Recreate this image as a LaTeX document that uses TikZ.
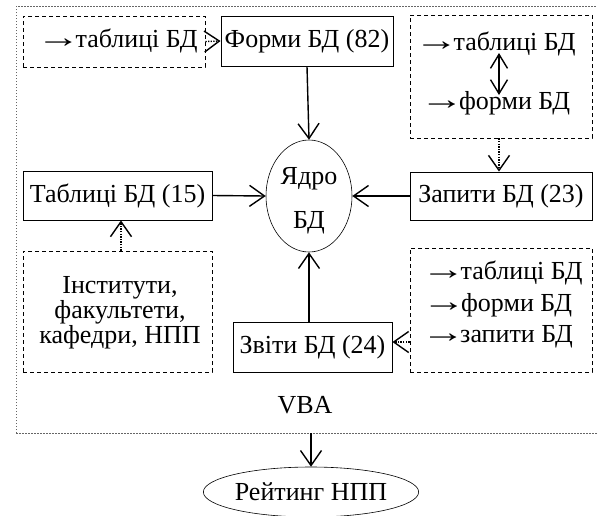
\documentclass[tikz,border=0pt]{standalone}
\usepackage{fontspec}
\usepackage{graphicx}
\setmainfont{Liberation Serif}
\newcommand\myarr{\kern-2pt\scalebox{1.7}[1.15]{→}\kern-5pt}
\usetikzlibrary{arrows.meta,shapes.geometric,calc}
\begin{document}
\begin{tikzpicture}[x=1pt,y=-1pt,
  every node/.style={font=\fontsize{26}{32}\selectfont, inner sep=0pt},
  dbox/.style={draw, line width=0.9pt, dash pattern=on 4pt off 3pt},
  arr/.style={-{Straight Barb[length=15pt,width=21pt,line width=1.4pt]}, line width=1.4pt},
  darr/.style={-{Straight Barb[length=15pt,width=21pt,line width=1.4pt]}, line width=1.4pt, dash pattern=on 1.3pt off 1.3pt},
  dbl/.style={{Straight Barb[length=14pt,width=17pt,line width=1.4pt]}-{Straight Barb[length=14pt,width=17pt,line width=1.4pt]}, line width=1.4pt}]
\useasboundingbox (0,0) rectangle (597,515);
% outer dotted frame
\draw[gray!80!black, line width=0.8pt, dash pattern=on 1.5pt off 1.5pt] (16,433) -- (16,6) -- (610,6);
\draw[gray!80!black, line width=0.8pt, dash pattern=on 1.5pt off 1.5pt] (16,433) -- (610,433);
% nodes
\node[dbox, minimum width=182pt, minimum height=51pt] (tabl1) at (114,41.5) {};
\node at (118,41) {\myarr таблиці БД};
\node[draw, line width=0.9pt, minimum width=172pt, minimum height=50pt] (forms) at (307,41) {Форми БД (82)};
\node[dbox, minimum width=182pt, minimum height=123pt] (rtop) at (501,76.5) {};
\node (rt1) at (496,44) {\myarr таблиці БД};
\node (rt2) at (496,103) {\myarr форми БД};
\coordinate (d1) at (499,53);
\coordinate (d2) at (499,95);
\node[draw, ellipse, line width=0.6pt, minimum width=86pt, minimum height=112pt] (yadro) at (309,196) {};
\node (y1) at (309,179) {Ядро};
\node (y2) at (309,223) {БД};
\node[draw, line width=0.9pt, minimum width=189pt, minimum height=49pt] (tab15) at (117.5,195.5) {Таблиці БД (15)};
\node[draw, line width=0.9pt, minimum width=182pt, minimum height=48pt] (zapyty) at (501,196) {Запити БД (23)};
\node[dbox, minimum width=189pt, minimum height=121pt] (inst) at (117.5,311.5) {};
\node[align=center, font=\fontsize{26}{25}\selectfont] at (120,313) {Інститути,\\факультети,\\кафедри, НПП};
\node[draw, line width=0.9pt, minimum width=159pt, minimum height=50pt] (zvity) at (312.5,347) {Звіти БД (24)};
\node[dbox, minimum width=182pt, minimum height=124pt] (rbot) at (501,310) {};
\node at (503,273) {\myarr таблиці БД};
\node at (498,305) {\myarr форми БД};
\node at (498,337) {\myarr запити БД};
\node (vba) at (305,405) {VBA};
\node[draw, ellipse, line width=0.6pt, minimum width=196pt, minimum height=50pt] (reit) at (311,492) {Рейтинг НПП};
\coordinate (frameb) at (311,433);
% connectors
\draw[arr] (forms.south) -- (yadro.north);
\draw[arr] (tab15.east) -- (yadro.west);
\draw[arr] (zapyty.west) -- (yadro.east);
\draw[arr] (zvity.north -| yadro.south) -- (yadro.south);
\draw[darr] (tabl1.east) -- (forms.west);
\draw[darr] (rtop.south -| d1) -- (zapyty.north -| d1);
\draw[darr] (inst.north -| 121,0) -- (tab15.south -| 121,0);
\draw[darr] (rbot.west |- 0,342) -- (zvity.east |- 0,342);
\draw[dbl] (d1) -- (d2);
\draw[arr] (frameb) -- (reit.north);
\end{tikzpicture}
\end{document}
